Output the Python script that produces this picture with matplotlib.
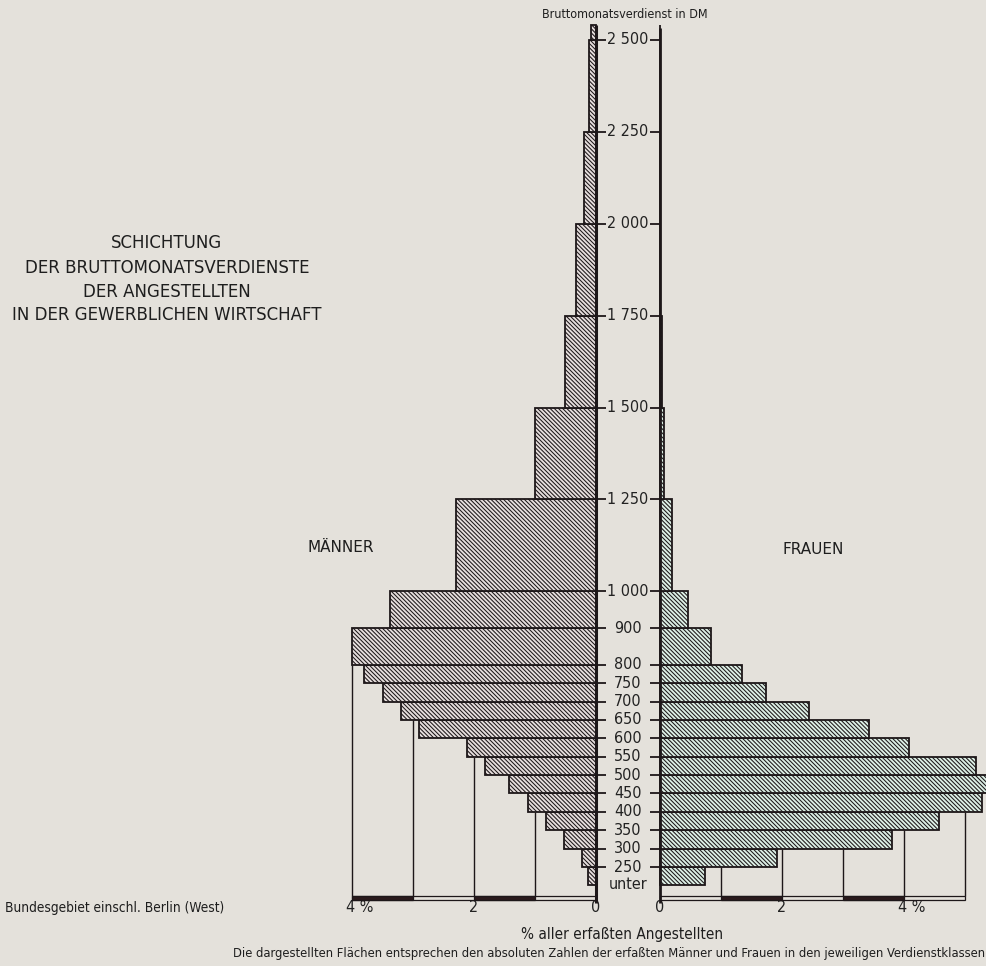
"""
Schichtung der Bruttomonatsverdienste der Angestellten (Maenner / Frauen).
Back-to-back histogram with DM classes on a linear vertical scale.
"""

import matplotlib.pyplot as plt
from matplotlib.patches import Rectangle
import numpy as np

# class edges in DM (lowest class = "unter 250")
EDGES = [200, 250, 300, 350, 400, 450, 500, 550, 600, 650, 700, 750, 800,
         900, 1000, 1250, 1500, 1750, 2000, 2250, 2500, 2540]

# bar length in %
MEN = [0.13, 0.23, 0.52, 0.82, 1.11, 1.43, 1.82, 2.11, 2.90, 3.20, 3.49,
       3.80, 4.00, 3.38, 2.29, 1.00, 0.51, 0.33, 0.20, 0.11, 0.08]
WOMEN = [0.74, 1.92, 3.80, 4.57, 5.28, 5.45, 5.18, 4.08, 3.43, 2.44, 1.74,
         1.34, 0.84, 0.46, 0.20, 0.07, 0.04, 0.0, 0.0, 0.0, 0.0]

TICK_VALUES = [250, 300, 350, 400, 450, 500, 550, 600, 650, 700, 750, 800,
               900, 1000, 1250, 1500, 1750, 2000, 2250, 2500]
TICK_LABELS = ["250", "300", "350", "400", "450", "500", "550", "600", "650",
               "700", "750", "800", "900", "1 000", "1 250", "1 500",
               "1 750", "2 000", "2 250", "2 500"]

GRID_MEN = [1, 2, 3, 4]
GRID_WOMEN = [1, 2, 3, 4, 5]
XLABELS_MEN = [(4, "4 %"), (2, "2"), (0, "0")]
XLABELS_WOMEN = [(0, "0"), (2, "2"), (4, "4 %")]

W, H = 987, 966
PX_PER_PCT = 61.0
PX_PER_50DM = 18.38
GAP = 32 / PX_PER_PCT          # half distance between the two zero lines
CENTER_PX = 628

BG = "#e4e1db"
EDGE = "#1d1719"
NARROW = dict(family="DejaVu Sans", stretch="condensed")
WIDE = dict(family="DejaVu Sans")

plt.rcParams["hatch.linewidth"] = 0.75


def px(x, y):
    return x / W, 1 - y / H


lo = np.array(EDGES[:-1])
hi = np.array(EDGES[1:])
men = np.array(MEN)
women = np.array(WOMEN)

fig = plt.figure(figsize=(W / 100, H / 100), dpi=100, facecolor=BG)
ax = fig.add_axes([0, 0, 1, 1])
ax.set_facecolor(BG)
ax.set_xlim(-CENTER_PX / PX_PER_PCT, (W - CENTER_PX) / PX_PER_PCT)
ax.set_ylim(250 - (H - 867) * 50 / PX_PER_50DM, 250 + 867 * 50 / PX_PER_50DM)
ax.axis("off")

# bars
ax.barh(lo, -men, height=hi - lo, left=-GAP, align="edge",
        color="#e6dedd", edgecolor=EDGE, linewidth=1.3, hatch="\\" * 8, zorder=3)
ax.barh(lo, women, height=hi - lo, left=GAP, align="edge",
        color="#dcefe5", edgecolor=EDGE, linewidth=1.3, hatch="\\" * 8, zorder=3)

# scale bars at the base
base_lo, base_hi = 160, 171
for sign, n in ((-1, 4), (1, 5)):
    x0 = sign * GAP
    ax.add_patch(Rectangle((x0, base_lo), sign * n, base_hi - base_lo,
                           facecolor="none", edgecolor=EDGE, lw=0.9, zorder=4))
    for a in (1, 3):
        ax.add_patch(Rectangle((x0 + sign * a, base_lo), sign * 1,
                               base_hi - base_lo, facecolor="#2a1a1c",
                               edgecolor=EDGE, lw=0.9, zorder=4))


# vertical guide lines, from the base up to the first bar reaching them
def guide_top(vals, g):
    for b, v in zip(lo, vals):
        if v >= g - 0.05:
            return b
    return base_hi


for g in GRID_MEN:
    ax.vlines(-GAP - g, base_hi, guide_top(men, g), color=EDGE, lw=1.0, zorder=2)
for g in GRID_WOMEN:
    ax.vlines(GAP + g, base_hi, guide_top(women, g), color=EDGE, lw=1.0, zorder=2)

# the two zero axes
ax.vlines(-GAP, 152, 2541, color=EDGE, lw=2.2, zorder=5)
ax.vlines(GAP, 152, 2533, color=EDGE, lw=2.0, zorder=5)

# DM ticks and labels between the axes
tick_len = 10 / PX_PER_PCT
ax.hlines(TICK_VALUES, -GAP, -GAP + tick_len, color=EDGE, lw=1.3, zorder=5)
ax.hlines(TICK_VALUES, GAP - tick_len, GAP, color=EDGE, lw=1.3, zorder=5)
for v, lab in zip(TICK_VALUES, TICK_LABELS):
    ax.text(0, v, lab, ha="center", va="center", fontsize=11.5,
            color="#222222", zorder=6, **NARROW)
ax.text(0, 203, "unter", ha="center", va="center", fontsize=11.5,
        color="#222222", **NARROW)

# % labels under the base
for v, lab in XLABELS_MEN:
    ax.text(-GAP - v + (0.12 if "%" in lab else 0), 140, lab, ha="center",
            va="center", fontsize=11.5, color="#222222", **NARROW)
for v, lab in XLABELS_WOMEN:
    ax.text(GAP + v + (0.12 if "%" in lab else 0), 140, lab, ha="center",
            va="center", fontsize=11.5, color="#222222", **NARROW)

# texts
tc = "#1e1e1e"
fig.text(*px(625, 15), "Bruttomonatsverdienst in DM", ha="center", va="center",
         fontsize=9, color=tc, **NARROW)
for y, line in zip((243, 268, 292, 315),
                   ("SCHICHTUNG", "DER BRUTTOMONATSVERDIENSTE",
                    "DER ANGESTELLTEN", "IN DER GEWERBLICHEN WIRTSCHAFT")):
    fig.text(*px(167, y), line, ha="center", va="center", fontsize=12,
             color=tc, **WIDE)
fig.text(*px(341, 547), "MÄNNER", ha="center", va="center", fontsize=11,
         color=tc, **WIDE)
fig.text(*px(813, 549), "FRAUEN", ha="center", va="center", fontsize=11,
         color=tc, **WIDE)
fig.text(*px(5, 908), "Bundesgebiet einschl. Berlin (West)", ha="left",
         va="center", fontsize=9.8, color=tc, **NARROW)
fig.text(*px(622, 935), "% aller erfaßten Angestellten", ha="center",
         va="center", fontsize=11, color=tc, **NARROW)
fig.text(*px(985, 953),
         "Die dargestellten Flächen entsprechen den absoluten Zahlen der "
         "erfaßten Männer und Frauen in den jeweiligen Verdienstklassen",
         ha="right", va="center", fontsize=9.3, color=tc, **NARROW)

fig.savefig("out.png", dpi=100, facecolor=BG)
